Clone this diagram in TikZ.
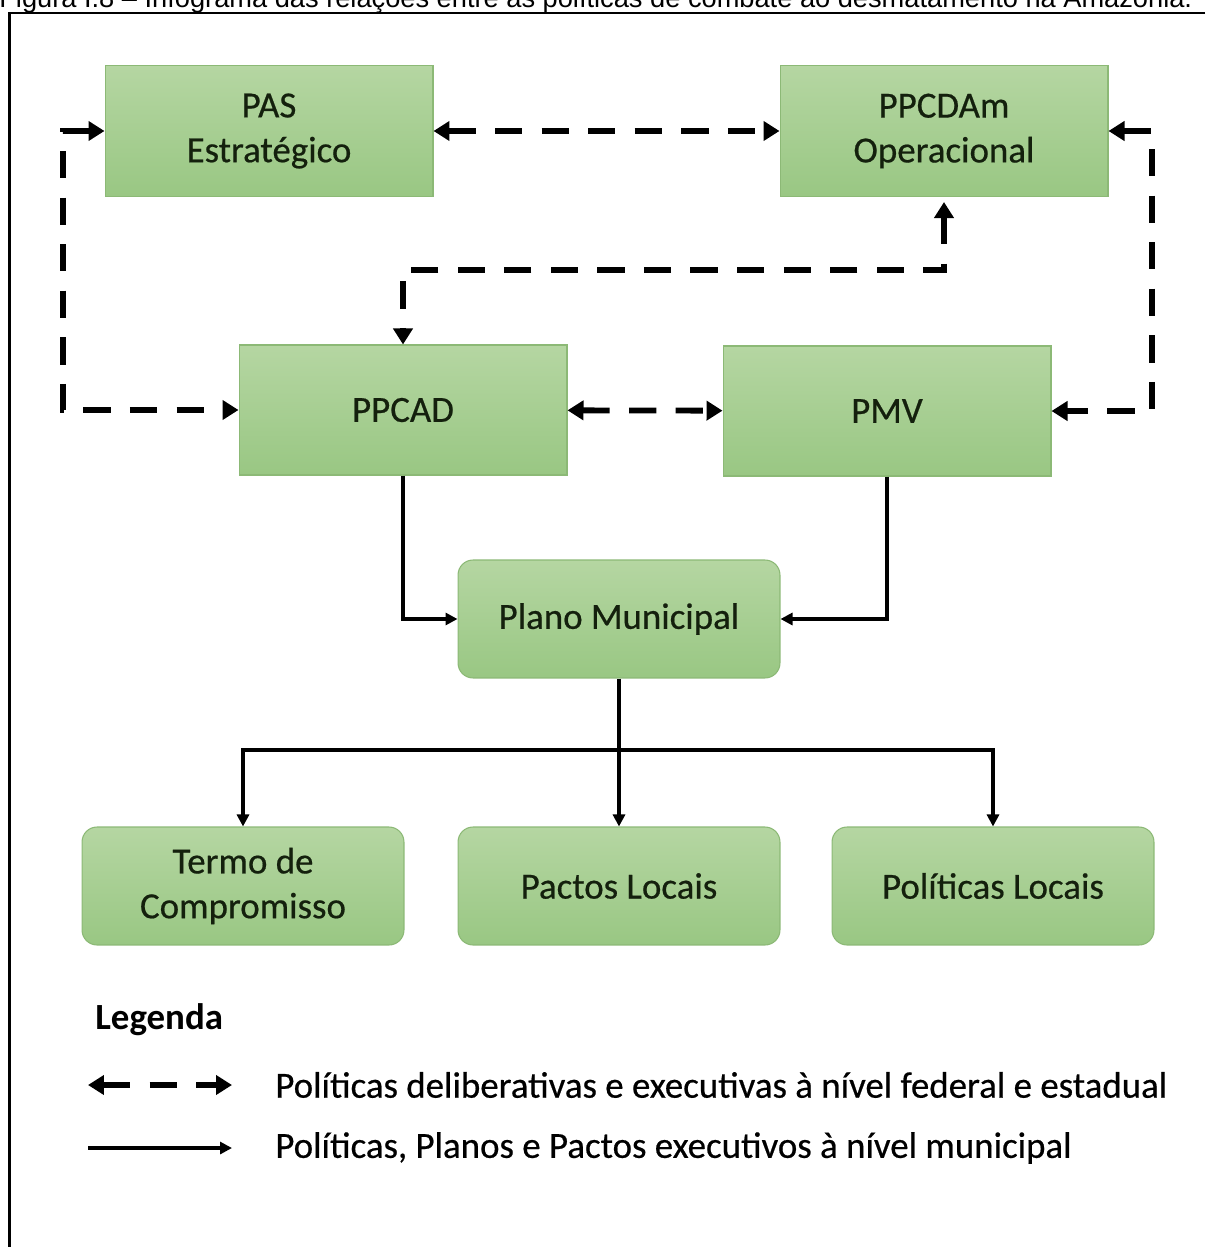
\documentclass[tikz,border=0pt]{standalone}
\usepackage{fontspec}
\setmainfont{Carlito}
\newfontfamily\boxfont{Carlito}[FakeBold=0.5]
\newfontfamily\capfont{Liberation Sans}
\usepackage{xcolor}
\usepackage{tikz}
\usetikzlibrary{arrows.meta}
\definecolor{boxTop}{HTML}{B5D6A2}
\definecolor{boxBottom}{HTML}{99C783}
\definecolor{boxLine}{HTML}{8CB976}
\definecolor{boxText}{HTML}{14200D}

\begin{document}
\begin{tikzpicture}[x=0.02cm, y=-0.02cm,
    box/.style={draw=boxLine, line width=0.6pt, top color=boxTop, bottom color=boxBottom,
        text=boxText, align=center, inner sep=0pt, minimum width=6.56cm, minimum height=2.62cm,
        font=\boxfont\fontsize{21}{25.5}\selectfont},
    rbox/.style={box, rounded corners=0.3cm, minimum width=6.44cm, minimum height=2.36cm},
    fed/.style={line width=3.3pt, dash pattern=on 15.5pt off 11pt,
        {Triangle[length=0.32cm,width=0.38cm]}-{Triangle[length=0.32cm,width=0.38cm]}},
    mun/.style={line width=2pt, -{Triangle[length=0.24cm,width=0.24cm]}},
    legtext/.style={anchor=west, inner sep=0pt, font=\boxfont\fontsize{21}{25}\selectfont}]
    \useasboundingbox (0,0) rectangle (1205,1247);
    \node[anchor=base west, inner sep=0pt, font=\capfont\fontsize{15.5}{18}\selectfont] (caption)
        at (-1,8) {Figura I.8 – Infograma das relações entre as políticas de combate ao desmatamento na Amazônia.};
    \draw[line width=1.5pt] (1205,13) -- (9.5,13) -- (9.5,1247);

    \node[box] (pas) at (269,131) {PAS\\Estratégico};
    \node[box] (ppcdam) at (944,131) {PPCDAm\\Operacional};
    \node[box, minimum height=2.6cm] (ppcad) at (403,410) {PPCAD};
    \node[box, minimum height=2.6cm] (pmv) at (887,411) {PMV};
    \node[rbox] (plano) at (619,619) {Plano Municipal};
    \node[rbox] (termo) at (243,886) {Termo de\\Compromisso};
    \node[rbox] (pactos) at (619,886) {Pactos Locais};
    \node[rbox] (politicas) at (993,886) {Políticas Locais};

    \coordinate (lft) at (63,0);
    \coordinate (rgt) at (1152,0);
    \coordinate (mid) at (0,270);
    \coordinate (split) at (619,750);

    \draw[fed] (pas) -- (ppcdam);
    \draw[fed] (ppcad) -- (pmv);
    \draw[fed] (pas.west) -- (lft |- pas.west) -- (lft |- ppcad.west) -- (ppcad.west);
    \draw[fed] (ppcdam.east) -- (rgt |- ppcdam.east) -- (rgt |- pmv.east) -- (pmv.east);
    \draw[fed] ([yshift=-0.1cm]ppcdam.south) -- (ppcdam.south |- mid) -- (ppcad.north |- mid) -- (ppcad.north);

    \draw[mun] (ppcad.south) |- (plano.west);
    \draw[mun] (pmv.south) |- (plano.east);
    \draw[line width=2pt] (plano.south) -- (split);
    \foreach \b in {termo,pactos,politicas}
        \draw[mun] (split) -| (\b.north);

    \node[anchor=west, inner sep=0pt, font=\bfseries\fontsize{21}{25}\selectfont] (legenda) at (95,1020) {Legenda};
    \node[legtext] (legfed) at (275,1085) {Políticas deliberativas e executivas à nível federal e estadual};
    \node[legtext] (legmun) at (275,1148) {Políticas, Planos e Pactos executivos à nível municipal};
    \coordinate (fedA) at (88,1085);
    \coordinate (fedB) at (232,1085);
    \coordinate (munA) at (88,1148);
    \coordinate (munB) at (232,1148);
    \draw[fed] (fedA) -- (fedB);
    \draw[mun, line width=2.4pt] (munA) -- (munB);
\end{tikzpicture}
\end{document}
